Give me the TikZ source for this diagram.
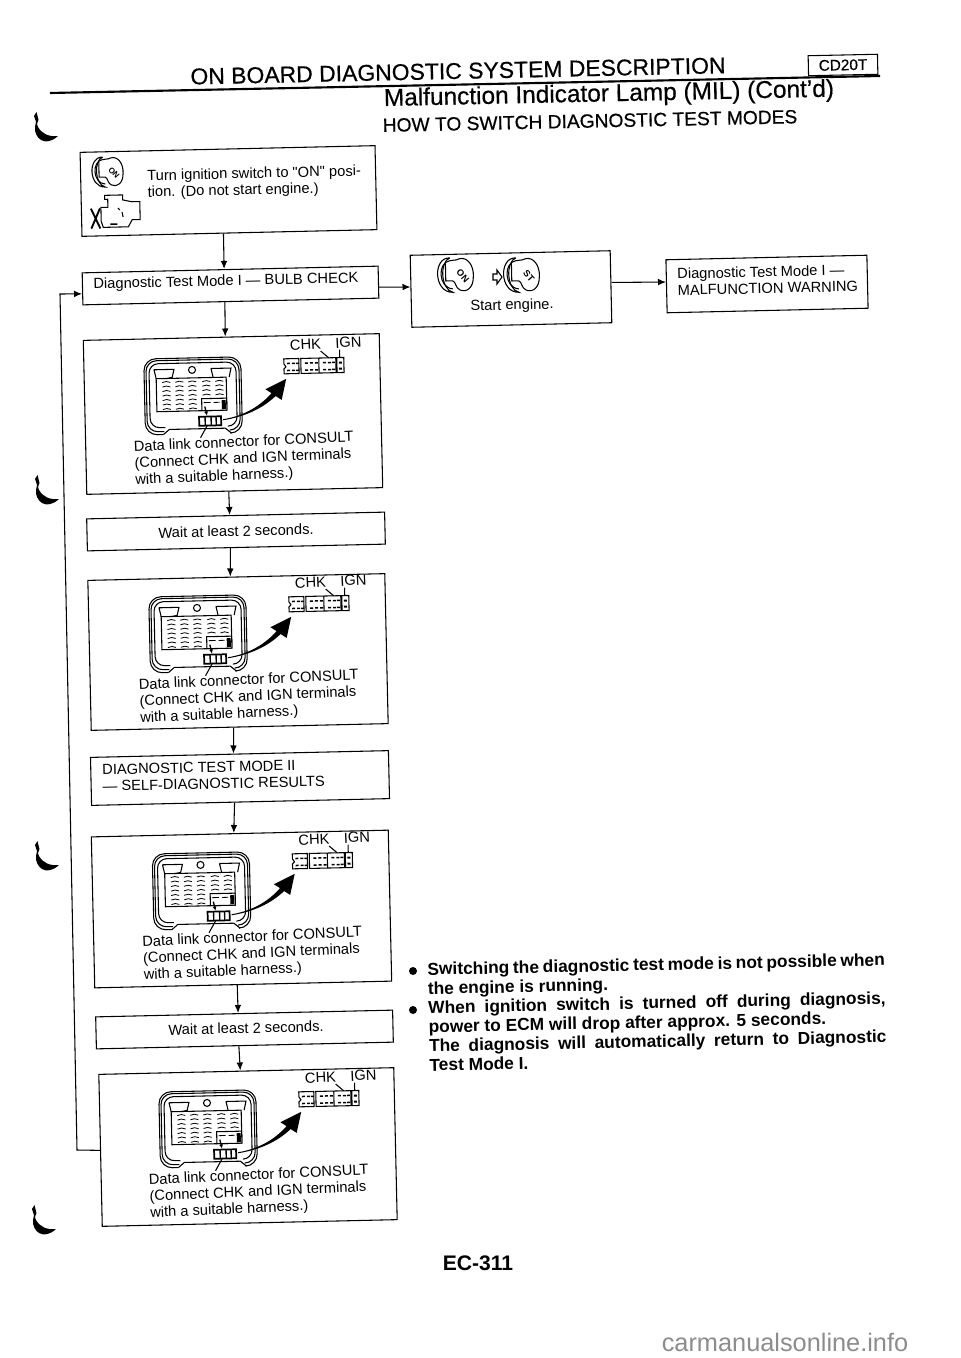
\documentclass[tikz,border=0pt]{standalone}
\usepackage{fontspec}
\setmainfont{Liberation Sans}[Ligatures=TeXOff]
\newfontfamily\heavyfont{Liberation Sans}[FakeBold=0.5]
\usetikzlibrary{arrows.meta,positioning}
\begin{document}
\begin{tikzpicture}[x=0.75pt,y=-0.75pt,line width=0.8pt,
flowbox/.style n args={2}{draw,rotate=1.3,inner sep=0pt,minimum width=0.75*#1 pt,minimum height=0.75*#2 pt},
flowtext/.style={rotate=1.3,inner sep=0pt,anchor=west,align=left,font=\fontsize{11}{12.4}\selectfont},
headtext/.style={rotate=1.2,inner sep=0pt,font=\fontsize{#1}{#1}\selectfont\heavyfont},
flow/.style={-{Latex[length=6pt,width=5pt]}},
pics/keyicon/.style={code={
\draw[fill=white] (-5,-15) .. controls (-20,-16) and (-20,15) .. (-3,15) .. controls (-14,12) and (-14,-12) .. (-5,-15);
\draw (-5,-12) .. controls (-16,-12) and (-16,11) .. (-3,12);
\draw[fill=white] (-9,-11) .. controls (-4,-14) and (0,-12) .. (3,-14) .. controls (10,-16) and (16,-8) .. (15,2) .. controls (15,11) and (9,16) .. (3,13) .. controls (-1,11) and (0,6) .. (-3,5) -- (-9,5) -- cycle;
\node[font=\fontsize{6}{6}\selectfont\bfseries,rotate=-50,transform shape,inner sep=0pt] (label) at (6,1) {#1};
}},
pics/engineicon/.style={code={
\draw (-19,-5) -- (-12,-5) -- (-12,-13) -- (-15,-13) -- (-15,-17) -- (3,-17) -- (3,-12) -- (12,-10) -- (20,-10) -- (20,8) -- (12,8) -- (8,15) -- (-17,15) -- (-19,9) -- cycle;
\draw[line width=1.4pt] (-29,-4) -- (-20,16) (-20,-4) -- (-29,16);
\draw[line width=1.2pt] (-10,12) -- (-3,12);
\draw (-2,-4) -- (0,-2) (2,0) -- (3,5);
}},
pics/dlcview/.style={code={
\draw[rounded corners=9pt] (-70,19) -- (-88,19) -- (-88,-57) -- (9,-57) -- (9,19) -- (-2,19);
\draw (-70,19) -- (-64,14) -- (-8,14) -- (-2,19);
\draw[rounded corners=8pt] (-69,16) -- (-86,16) -- (-86,-55) -- (7,-55) -- (7,16) -- (-3,16);
\draw[rounded corners=7pt] (-68,12) -- (-83,12) -- (-83,-52) -- (4,-52) -- (4,12) -- (-5,12);
\draw (-76,-37) rectangle (-6,-4);
\draw (-78,-46) -- (-58,-46) -- (-60,-38) -- (-65,-37) (-76,-37) -- (-78,-46);
\draw (-21,-46) -- (-1,-46) -- (-3,-37) (-21,-46) -- (-19,-37);
\draw (-40,-45) circle (3.5);
\foreach \x in {-66,-53,-40,-26,-13}{\foreach \y in {-33,-28.5,-24,-19.5,-15,-10.5,-6}{
\draw[line width=0.6pt] ({\x-4},\y) to[bend left=25] ({\x+4},\y);}}
\draw[fill=white] (-31,-16) rectangle (-6,-4);
\draw[line width=0.6pt] (-29,-12) -- (-22,-12) (-19,-12) -- (-13,-12);
\fill (-11,-14) rectangle (-7,-5);
\draw[-{Latex[length=3pt,width=3pt]},line width=1pt] (-28,-8) -- (-26,1);
\draw[line width=1.3pt] (-34,2) rectangle (-12,11);
\draw[line width=1pt] (-28,2) -- (-28,11) (-22,2) -- (-22,11) (-17,2) -- (-17,11);
\draw (-26,11) -- (-33,23);
\fill (-10,5) .. controls (12,2) and (28,-8) .. (39,-20) -- (33,-24) -- (54,-34) -- (49,-13) -- (43,-17) .. controls (30,-5) and (12,3) .. (-10,6) -- cycle;
\draw (52,-54) -- (67,-54) -- (67,-39) -- (52,-39) -- (52,-44) -- (54,-46) -- (52,-49) -- cycle;
\draw (69,-54) rectangle (87,-39) (87,-54) rectangle (104,-39) (105,-54) rectangle (112,-39);
\foreach \x in {55,60,64,73,78,83,91,96,100}{\foreach \y in {-50,-43}{\fill (\x,\y) rectangle ++(3,1.5);}}
\fill (107,-50) rectangle ++(3,2) (107,-44) rectangle ++(3,2);
\draw (89,-61) -- (97,-54) (108,-62) -- (108,-54);
\node[flowtext,anchor=center,transform shape] (chk) at (74,-68) {CHK};
\node[flowtext,anchor=center,transform shape] (ign) at (117,-69) {IGN};
\node[flowtext,transform shape] (note) at (-100,48) {Data link connector for CONSULT\\(Connect CHK and IGN terminals\\with a suitable harness.)};
}}]
\useasboundingbox (0,0) rectangle (960,1358);
\node[flowbox={295}{84}] (ignon) at (228.5,191) {};
\node[flowbox={296}{32}] (bulb) at (230.5,285.5) {};
\node[flowbox={296}{154}] (chka) at (233,414) {};
\node[flowbox={298}{32}] (waita) at (236,531.5) {};
\node[flowbox={297}{150}] (chkb) at (238,652) {};
\node[flowbox={298}{48}] (modetwo) at (240,778) {};
\node[flowbox={297}{151}] (chkc) at (241.5,909) {};
\node[flowbox={297}{32}] (waitb) at (244.5,1029.5) {};
\node[flowbox={295}{152}] (chkd) at (248,1147) {};
\node[flowbox={200}{72}] (start) at (511,289) {};
\node[flowbox={201}{53}] (malf) at (767,284) {};
\foreach \a/\b in {ignon/bulb,bulb/chka,chka/waita,waita/chkb,chkb/modetwo,modetwo/chkc,chkc/waitb,waitb/chkd}{
\draw[flow] ([xshift=-4.5pt]\a.south) -- ([xshift=-4.5pt]\b.north);}
\coordinate (backb) at (77,1150); \coordinate (backt) at (60,294);
\draw[flow] (chkd.west) -- (backb) -- (backt) -- ([yshift=-3.75pt]bulb.west);
\draw[flow] ([yshift=-3.75pt]bulb.east) -- ([yshift=3.2pt]start.west);
\draw[flow] ([yshift=3.2pt]start.east) -- ([yshift=3.2pt]malf.west);
\foreach \n in {a,b,c,d}{\pic[rotate=1.3,transform shape] (dlc\n) at (chk\n) {dlcview};}
\node[flowtext] (ignont) at (147,185) {Turn ignition switch to "ON" posi-\\tion. (Do not start engine.)};
\node[flowtext] (bulbt) at (93,285) {Diagnostic Test Mode I — BULB CHECK};
\node[flowtext,anchor=center] (waitat) at (236,531) {Wait at least 2 seconds.};
\node[flowtext] (modetwot) at (102,778) {DIAGNOSTIC TEST MODE II\\— SELF-DIAGNOSTIC RESULTS};
\node[flowtext,anchor=center] (waitbt) at (246,1028) {Wait at least 2 seconds.};
\node[flowtext,anchor=center] (startt) at (512,306) {Start engine.};
\node[flowtext] (malft) at (677,282) {Diagnostic Test Mode I —\\MALFUNCTION WARNING};
\pic[rotate=1.3,transform shape] (keya) at (108,172) {keyicon=ON};
\pic[rotate=1.3,transform shape] (engine) at (120,212) {engineicon};
\pic[rotate=1.3,scale=1.15,transform shape] (keyb) at (456,275) {keyicon=ON};
\pic[rotate=1.3,scale=1.15,transform shape] (keyc) at (522,275) {keyicon=ST};
\draw (493,274) -- (497,274) -- (497,270) -- (502,277) -- (497,284) -- (497,280) -- (493,280) -- cycle;
\node[headtext=17.2] (title) at (458,71) {ON BOARD DIAGNOSTIC SYSTEM DESCRIPTION};
\coordinate (rulel) at (50,93); \coordinate (ruler) at (880,76);
\draw[line width=1.6pt] (rulel) -- (ruler);
\node[draw,rotate=1.2,inner sep=0pt,minimum width=52pt,minimum height=15pt,font=\fontsize{11.5}{11.5}\selectfont\heavyfont] (engcode) at (843,65) {CD20T};
\node[headtext=18.3] (subtitle) at (609,95) {Malfunction Indicator Lamp (MIL) (Cont’d)};
\node[headtext=14.4] (howto) at (590,121) {HOW TO SWITCH DIAGNOSTIC TEST MODES};
\fill (413,971) circle (4);
\fill (413,1010) circle (4);
\node[rotate=1.2,inner sep=0pt,anchor=west,align=left,font=\fontsize{13}{14.4}\selectfont\bfseries] (notes) at (428,1017) {\makebox[343pt][s]{Switching the diagnostic test mode is not possible when}\\the engine is running.\\\makebox[343pt][s]{When ignition switch is turned off during diagnosis,}\\power to ECM will drop after approx. 5 seconds.\\\makebox[343pt][s]{The diagnosis will automatically return to Diagnostic}\\Test Mode I.};
\node[font=\fontsize{15.8}{15.8}\selectfont\bfseries,inner sep=0pt] (pageno) at (478,1263) {EC-311};
\node[font=\fontsize{19}{19}\selectfont,text=black!45,inner sep=0pt] (site) at (785,1342) {carmanualsonline.info};
\foreach \x/\y in {35/127,36/490,36/856,33/1220}{
\fill (\x,\y) .. controls ({\x-1},{\y+11}) and ({\x+10},{\y+21}) .. ({\x+23},{\y+9}) .. controls ({\x+14},{\y+10}) and ({\x+7},{\y+7}) .. ({\x+3},\y) -- ++(-1,-3) -- ++(1.5,-4) -- ++(-2,-8) -- ++(-2.5,4) -- ++(2,6) -- cycle;}
\end{tikzpicture}
\end{document}
